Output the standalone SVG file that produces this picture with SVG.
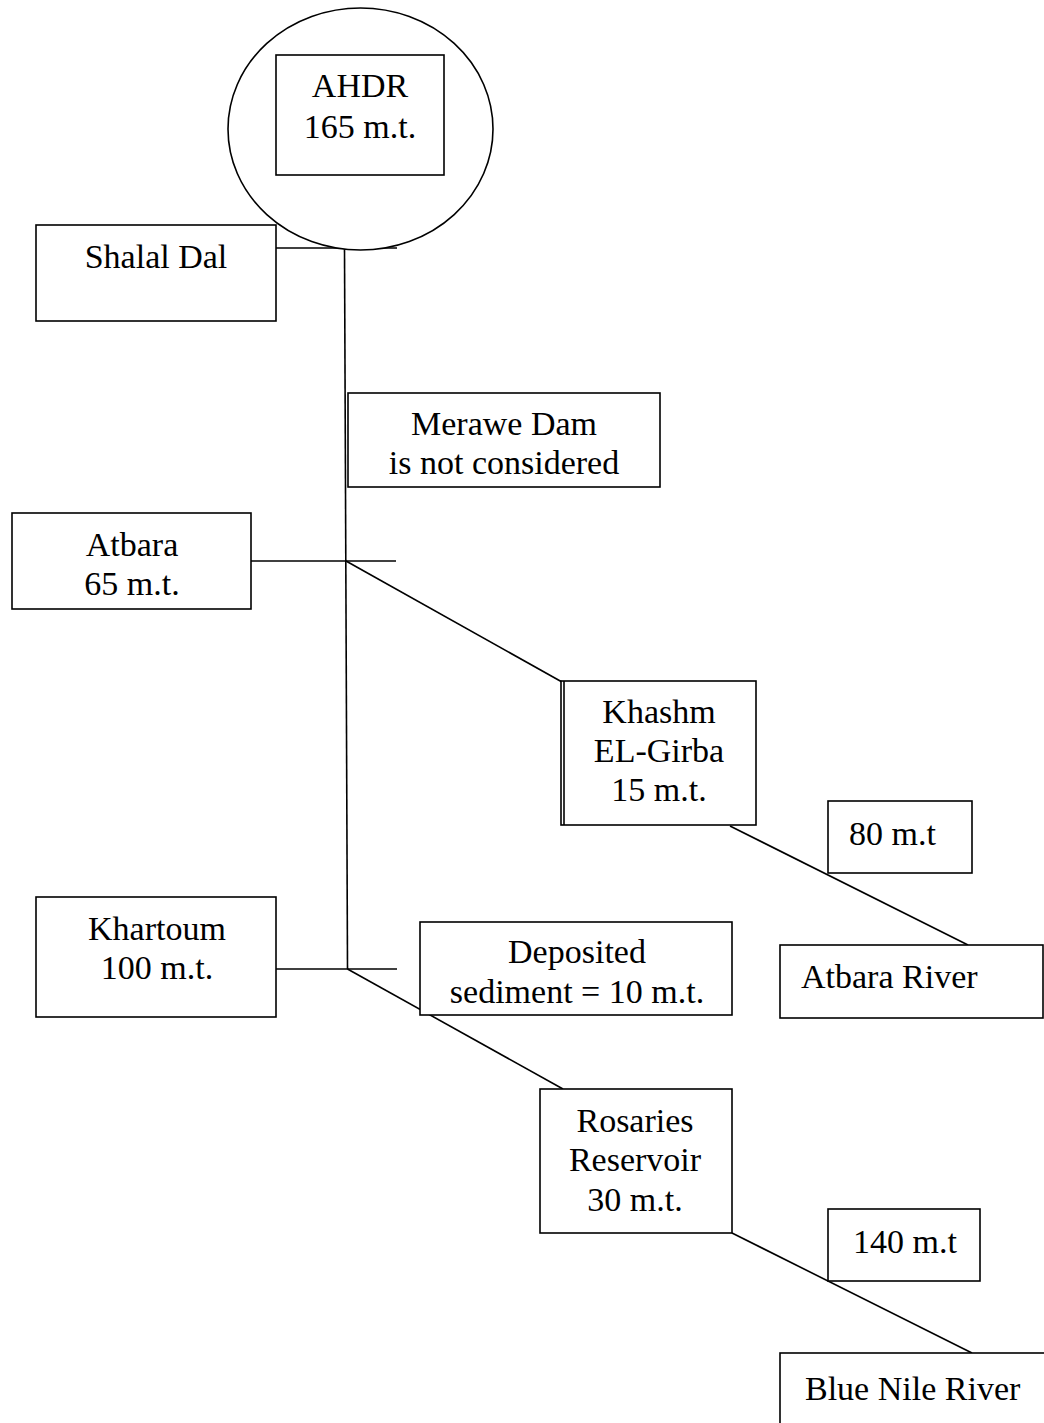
<svg xmlns="http://www.w3.org/2000/svg" width="1044" height="1423" viewBox="0 0 1044 1423">
<style>
.b{fill:#fff;stroke:#000;stroke-width:1.6}
.c{fill:none;stroke:#000;stroke-width:1.6}
text{font-family:"Liberation Serif","Times New Roman",serif;font-size:34px;fill:#000}
.m{text-anchor:middle}
</style>
<rect width="1044" height="1423" fill="#fff"/>
<g id="connectors">
<line class="c" x1="276" y1="248" x2="397" y2="248"/>
<line class="c" x1="344.5" y1="248" x2="347.5" y2="969"/>
<line class="c" x1="251" y1="561" x2="396" y2="561"/>
<line class="c" x1="346" y1="561" x2="562" y2="682"/>
<line class="c" x1="276" y1="969" x2="397" y2="969"/>
<line class="c" x1="347.5" y1="969" x2="563" y2="1089"/>
<line class="c" x1="730" y1="826" x2="968" y2="945"/>
<line class="c" x1="732" y1="1233" x2="972" y2="1353"/>
</g>
<g id="ahdr">
<ellipse class="b" cx="360.5" cy="129" rx="132.5" ry="121"/>
<rect class="b" x="276" y="55" width="168" height="120"/>
<text class="m" x="360" y="97">AHDR</text>
<text class="m" x="360" y="138">165 m.t.</text>
</g>
<g id="shalal">
<rect class="b" x="36" y="225" width="240" height="96"/>
<text class="m" x="156" y="268">Shalal Dal</text>
</g>
<g id="merawe">
<rect class="b" x="348" y="393" width="312" height="94"/>
<text class="m" x="504" y="435">Merawe Dam</text>
<text class="m" x="504" y="474">is not considered</text>
</g>
<g id="atbara">
<rect class="b" x="12" y="513" width="239" height="96"/>
<text class="m" x="132" y="556">Atbara</text>
<text class="m" x="132" y="595">65 m.t.</text>
</g>
<g id="khashm">
<rect class="b" x="561" y="681" width="195" height="144"/>
<line class="c" x1="564" y1="681" x2="564" y2="825"/>
<text class="m" x="659" y="723">Khashm</text>
<text class="m" x="659" y="762">EL-Girba</text>
<text class="m" x="659" y="801">15 m.t.</text>
</g>
<g id="atbara80">
<rect class="b" x="828" y="801" width="144" height="72"/>
<text x="849" y="845">80 m.t</text>
</g>
<g id="atbarariver">
<rect class="b" x="780" y="945" width="263" height="73"/>
<text x="801" y="988">Atbara River</text>
</g>
<g id="khartoum">
<rect class="b" x="36" y="897" width="240" height="120"/>
<text class="m" x="157" y="940">Khartoum</text>
<text class="m" x="157" y="979">100 m.t.</text>
</g>
<g id="deposited">
<rect class="b" x="420" y="922" width="312" height="93"/>
<text class="m" x="577" y="963">Deposited</text>
<text class="m" x="577" y="1003">sediment = 10 m.t.</text>
</g>
<g id="rosaries">
<rect class="b" x="540" y="1089" width="192" height="144"/>
<text class="m" x="635" y="1132">Rosaries</text>
<text class="m" x="635" y="1171">Reservoir</text>
<text class="m" x="635" y="1211">30 m.t.</text>
</g>
<g id="bluenile140">
<rect class="b" x="828" y="1209" width="152" height="72"/>
<text class="m" x="905" y="1253">140 m.t</text>
</g>
<g id="bluenileriver">
<rect class="b" x="780" y="1353" width="280" height="100"/>
<text x="805" y="1400">Blue Nile River</text>
</g>
</svg>
